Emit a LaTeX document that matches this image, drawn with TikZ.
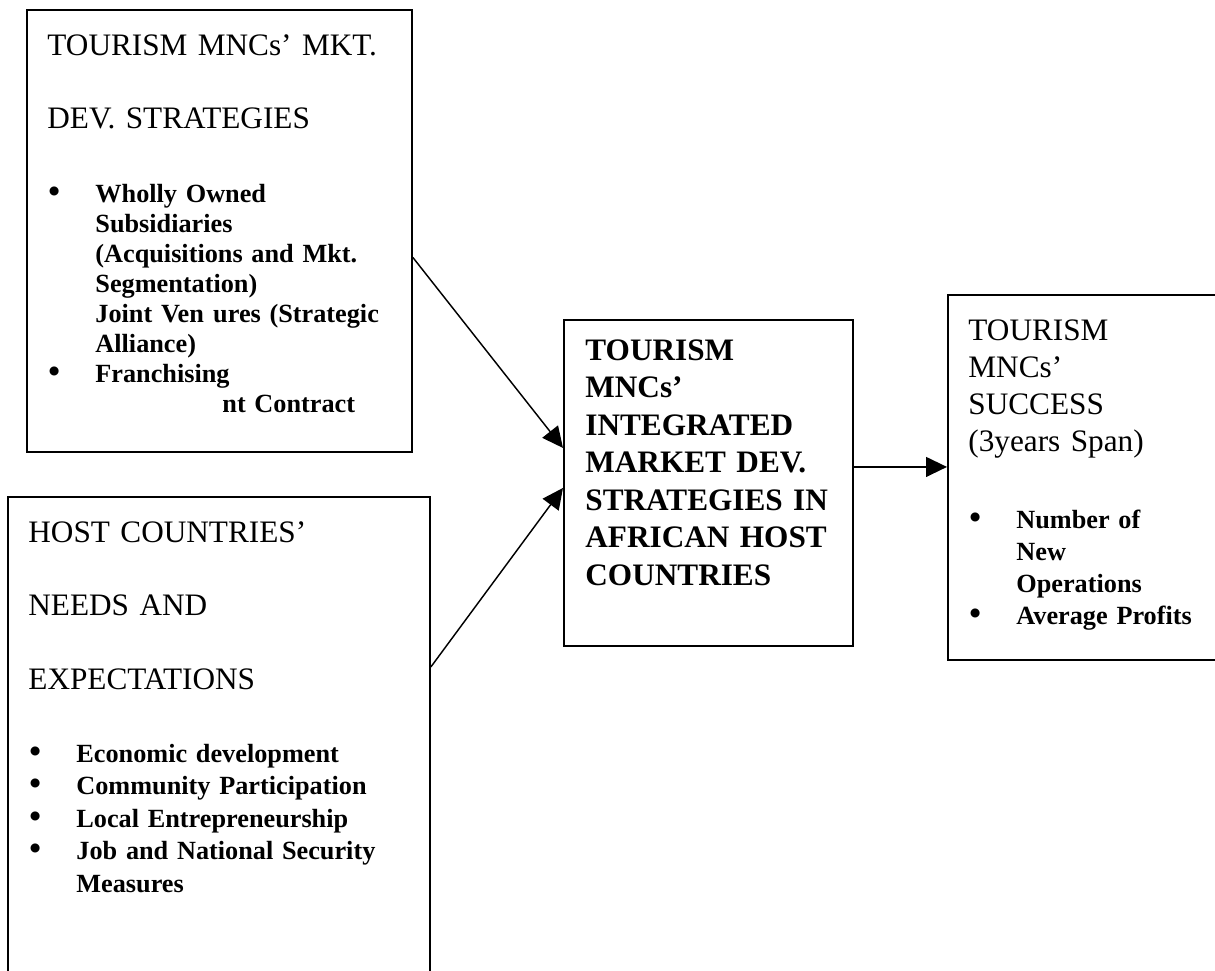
\documentclass[tikz,border=0pt]{standalone}
\usepackage{fontspec}
\setmainfont{Liberation Serif}
\usepackage{tikz}
\usetikzlibrary{arrows.meta}
\usetikzlibrary{calc}
\newlength{\px}\setlength{\px}{0.48pt}
\newlength{\bulind}\setlength{\bulind}{48\px}
\newcommand{\bul}{\makebox[\bulind][l]{\hspace{1\px}{\fontsize{16}{10}\selectfont\textbullet}}}
\newcommand{\ind}{\hspace*{\bulind}}

\begin{document}
\begin{tikzpicture}[x=0.48pt, y=-0.48pt,
            box/.style = {draw, line width=0.9pt, rectangle, inner sep=0pt, anchor=north west},
            head/.style = {anchor=base west, inner sep=0pt, text width=9cm, align=left, font=\fontsize{15}{35.3}\selectfont},
            items/.style = {anchor=base west, inner sep=0pt, text width=9cm, align=left, font=\fontsize{12.6}{14.4}\bfseries\selectfont},
            conn/.style = {line width=0.7pt, -{Triangle[length=10pt,width=9.5pt]}}]
        \useasboundingbox (0,0) rectangle (1215,970);
        \clip (0,0) rectangle (1215,970);

        % boxes (B and D run past the page edge)
        \node[box, minimum width=385*\px, minimum height=442*\px] (A) at (26,9) {};
        \node[box, minimum width=422*\px, minimum height=540*\px] (B) at (7,496) {};
        \node[box, minimum width=289*\px, minimum height=326*\px] (C) at (563,319) {};
        \node[box, minimum width=290*\px, minimum height=365*\px] (D) at (947,294) {};

        % texts
        \node[head] (Ahead) at (47,55) {TOURISM MNCs’ MKT.\\DEV. STRATEGIES};
        \node[items] (Alist) at (47,202) {\bul Wholly Owned\\ \ind Subsidiaries\\ \ind (Acquisitions and Mkt.\\ \ind Segmentation)\\ \ind Joint Ven\hspace{4.5pt}ures (Strategic\\ \ind Alliance)\\ \bul Franchising\\ \hspace*{175\px}nt Contract};

        \node[head] (Bhead) at (28,542) {HOST COUNTRIES’\\NEEDS AND\\EXPECTATIONS};
        \node[items, font=\fontsize{12.6}{15.6}\bfseries\selectfont] (Blist) at (28,762) {\bul Economic development\\ \bul Community Participation\\ \bul Local Entrepreneurship\\ \bul Job and National Security\\ \ind Measures};

        \node[head, font=\fontsize{15}{18}\bfseries\selectfont] (Ctext) at (585,360) {TOURISM\\MNCs’\\INTEGRATED\\MARKET DEV.\\STRATEGIES IN\\AFRICAN HOST\\COUNTRIES};

        \node[head, font=\fontsize{15}{17.8}\selectfont] (Dhead) at (968,340) {TOURISM\\MNCs’\\SUCCESS\\(3years Span)};
        \node[items, font=\fontsize{12.6}{15.4}\bfseries\selectfont] (Dlist) at (968,528) {\bul Number of\\ \ind New\\ \ind Operations\\ \bul Average Profits};

        % connectors
        \draw[conn] ($(A.east)+(0,26.5)$) -- ($(C.west)+(0,-35)$);
        \draw[conn] ($(B.east)+(0,-100)$) -- ($(C.west)+(0,5)$);
        \coordinate (Cout) at ($(C.east)+(0,-16)$);
        \draw[conn] (Cout) -- (Cout -| D.west);
\end{tikzpicture}
\end{document}
